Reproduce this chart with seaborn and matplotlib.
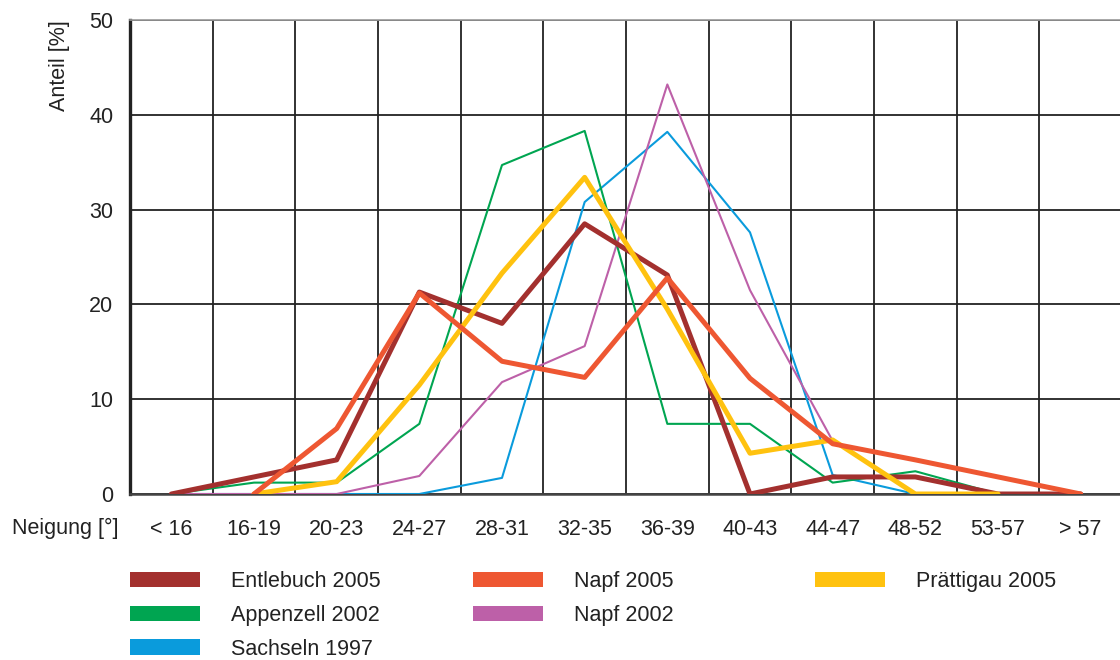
import numpy as np
import matplotlib
matplotlib.use("Agg")
import matplotlib.pyplot as plt
from matplotlib.patches import Patch
import seaborn as sns

nan = np.nan
categories = ["< 16", "16-19", "20-23", "24-27", "28-31", "32-35",
              "36-39", "40-43", "44-47", "48-52", "53-57", "> 57"]
y_ticks = [0, 10, 20, 30, 40, 50]

sachseln_1997 = [0, 0, 0, 0, 1.7, 30.8, 38.2, 27.6, 2.0, 0, nan, nan]
napf_2002 = [0, 0, 0, 1.9, 11.8, 15.6, 43.2, 21.5, 5.6, nan, nan, nan]
appenzell_2002 = [0, 1.2, 1.2, 7.4, 34.7, 38.3, 7.4, 7.4, 1.2, 2.4, 0, nan]
entlebuch_2005 = [0, 1.8, 3.6, 21.3, 18.0, 28.5, 23.1, 0, 1.8, 1.8, 0, 0]
praettigau_2005 = [nan, 0, 1.3, 11.5, 23.3, 33.4, 19.5, 4.3, 5.7, 0, 0, nan]
napf_2005 = [nan, 0, 6.9, 21.2, 14.0, 12.3, 22.8, 12.2, 5.3, 3.6, 1.8, 0]

series = [
    ("Sachseln 1997", sachseln_1997, "#0A9BDC", 1.5),
    ("Napf 2002", napf_2002, "#BD60A8", 1.5),
    ("Appenzell 2002", appenzell_2002, "#00A551", 1.5),
    ("Entlebuch 2005", entlebuch_2005, "#A3302E", 3.6),
    ("Prättigau 2005", praettigau_2005, "#FFC20F", 3.6),
    ("Napf 2005", napf_2005, "#EE5732", 3.6),
]
colors = {name: c for name, _, c, _ in series}

sns.set_theme(style="white")
plt.rcParams["font.family"] = ["Liberation Sans Narrow", "Liberation Sans", "DejaVu Sans"]

W, H = 1120, 660
fig = plt.figure(figsize=(W / 100, H / 100), dpi=100)
ax = fig.add_axes([130 / W, 1 - 494 / H, 992 / W, (494 - 20) / H])

pos = np.arange(len(categories))
for i, (name, vals, col, lw) in enumerate(series):
    sns.lineplot(x=pos, y=np.array(vals, dtype=float), color=col, linewidth=lw,
                 ax=ax, zorder=3 + i)

ax.set_xlim(-0.5, len(categories) - 0.5)
ax.set_ylim(0, 50)
ax.set_xticks(pos)
ax.set_xticklabels(categories)
ax.set_xticks(np.arange(-0.5, len(categories), 1), minor=True)
ax.set_yticks(y_ticks)
ax.set_yticklabels([str(v) for v in y_ticks])
ax.grid(False)
ax.grid(which="minor", axis="x", color="#222222", linewidth=1.3, zorder=1)
ax.grid(which="major", axis="y", color="#222222", linewidth=1.3, zorder=1)
ax.set_axisbelow(True)
ax.tick_params(axis="both", which="both", length=0, colors="#222222", labelsize=15.5)
ax.tick_params(axis="x", which="major", pad=18)
ax.tick_params(axis="y", which="major", pad=12)

ax.spines["left"].set_color("#222222")
ax.spines["left"].set_linewidth(2.4)
ax.spines["bottom"].set_color("#444444")
ax.spines["bottom"].set_linewidth(1.8)
ax.spines["top"].set_color("#9a9a9a")
ax.spines["top"].set_linewidth(1.2)
ax.spines["right"].set_visible(False)

ax.set_xlabel("")
ax.set_ylabel("Anteil [%]", loc="top", fontsize=15.5, color="#222222")
ax.yaxis.set_label_coords(-0.06, 1.0)

fig.text(12 / W, 1 - 528 / H, "Neigung [°]", fontsize=15.5, color="#222222",
         ha="left", va="center")

legend_cols = [
    (["Entlebuch 2005", "Appenzell 2002", "Sachseln 1997"], 130),
    (["Napf 2005", "Napf 2002"], 473),
    (["Prättigau 2005"], 815),
]
for names, xpx in legend_cols:
    handles = [Patch(facecolor=colors[n], edgecolor="none") for n in names]
    fig.legend(handles, names, loc="upper left",
               bbox_to_anchor=(xpx / W, 1 - 571 / H),
               frameon=False, borderpad=0, borderaxespad=0,
               fontsize=15.5, handlelength=3.25, handleheight=0.75,
               handletextpad=1.45, labelspacing=0.6, labelcolor="#222222")

fig.savefig("out.png", dpi=100)
